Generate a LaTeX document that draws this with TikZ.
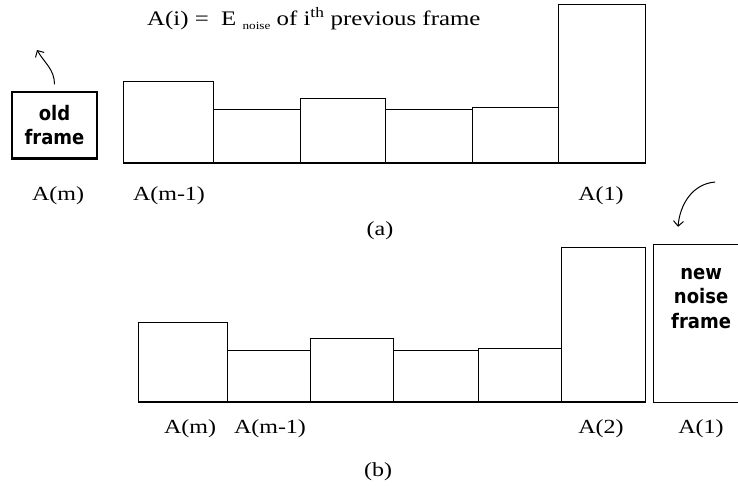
\documentclass[tikz,border=0pt]{standalone}
\usepackage{fontspec}
\setmainfont[FakeStretch=1.2]{Liberation Serif}
\newfontfamily\boxfont[FakeStretch=0.9]{DejaVu Sans}
\usetikzlibrary{arrows.meta,positioning,calc}
\tikzset{
  e pic/.style={x=1pt, y=1pt, font=\fontsize{20}{22}\selectfont},
  e bar/.style={draw, line width=1.2pt, inner sep=0pt, anchor=south west},
  e base/.style={line width=2.6pt},
  e frame/.style={draw, line width=1.2pt, inner sep=0pt},
  e ftext/.style={inner sep=0pt, align=center, font=\boxfont\bfseries\fontsize{20}{24.5}\selectfont},
  e lab/.style={anchor=base, inner sep=0pt},
  e arr/.style={-{Straight Barb[length=5pt, width=10pt]}, line width=1pt},
}
\newcommand{\ebar}[4]{%
  \node[e bar, minimum width=#3pt, minimum height=#4pt] (#1) at (#2) {};}

\begin{document}
\begin{tikzpicture}[e pic]
\useasboundingbox (0,0) rectangle (738,-485);
% ---- title ----
\node[e lab, anchor=base west, font=\fontsize{20.7}{22}\selectfont] (ttl) at (147,-25)
  {A(i) =\ \ E \raisebox{-4pt}{\fontsize{11}{11}\selectfont noise} of i\textsuperscript{th} previous frame};
% ---- (a) before the shift ----
\node[e frame, minimum width=85pt, minimum height=66pt] (old) at (54.5,-125) {};
\node[e ftext] at (old) {old\\frame};
\draw[e base] (old.south west) -- (old.south east);
\ebar{a1}{123,-163}{90}{81}
\ebar{a2}{213,-163}{87}{53}
\ebar{a3}{300,-163}{85}{64}
\ebar{a4}{385,-163}{87}{53}
\ebar{a5}{472,-163}{86}{55}
\ebar{a6}{558,-163}{87}{158}
\draw[e base] (a1.south west) -- (a6.south east);
\coordinate (gone) at (37,-50);
\draw[e arr] ([yshift=7pt]old.north) to[out=90, in=-60] (gone);
\node[e lab] (la1) at (58,-200) {A(m)};
\node[e lab] (la2) at (169,-200) {A(m-1)};
\node[e lab] (la3) at (601,-200) {A(1)};
\node[e lab] (capa) at (380,-235) {(a)};
% ---- (b) after the shift ----
\ebar{b1}{138,-402}{89}{79}
\ebar{b2}{227,-402}{83}{51}
\ebar{b3}{310,-402}{83}{63}
\ebar{b4}{393,-402}{85}{51}
\ebar{b5}{478,-402}{83}{53}
\ebar{b6}{561,-402}{84}{154}
\draw[e base] (b1.south west) -- (b6.south east);
\node[e frame, minimum width=95pt, minimum height=158pt, anchor=south west] (nf) at (653,-403) {};
\node[e ftext, below=24pt of nf.north] (nft) {new\\noise\\frame};
\coordinate (fresh) at (715,-182);
\draw[e arr] (fresh) to[out=185, in=85] ($(nf.north west)+(25,17)$);
\node[e lab] (lb1) at (190,-433) {A(m)};
\node[e lab] (lb2) at (270,-433) {A(m-1)};
\node[e lab] (lb3) at (601,-433) {A(2)};
\node[e lab] (lb4) at (701,-433) {A(1)};
\node[e lab] (capb) at (378,-476) {(b)};
\end{tikzpicture}
\end{document}
